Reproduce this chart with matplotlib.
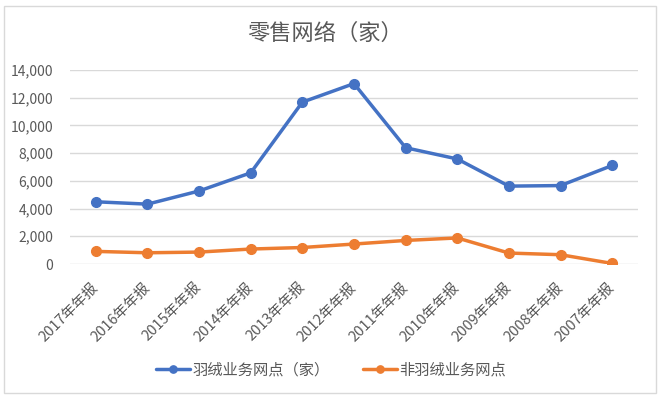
import matplotlib.pyplot as plt
import matplotlib.patches as mpatches
from matplotlib.ticker import FuncFormatter

plt.rcParams['font.family'] = ['Noto Sans CJK SC', 'DejaVu Sans']

# dati
categories = ["2017年年报", "2016年年报", "2015年年报", "2014年年报", "2013年年报",
              "2012年年报", "2011年年报", "2010年年报", "2009年年报", "2008年年报",
              "2007年年报"]
down_outlets = [4490, 4320, 5270, 6580, 11680, 13020, 8390, 7580, 5620, 5660, 7110]
other_outlets = [910, 810, 860, 1080, 1190, 1440, 1700, 1880, 790, 670, 40]

BLUE = "#4472C4"
ORANGE = "#ED7D31"
GRAY_TXT = "#595959"
GRID = "#D9D9D9"

fig = plt.figure(figsize=(6.6, 3.97), dpi=100)
fig.patch.set_facecolor("white")
ax = fig.add_axes([70 / 660, 1 - 264 / 397, (638 - 70) / 660, (264 - 70) / 397])

x = list(range(len(categories)))
ax.plot(x, down_outlets, color=BLUE, lw=2.5, marker="o", ms=7,
        label="羽绒业务网点（家）", solid_capstyle="round")
ax.plot(x, other_outlets, color=ORANGE, lw=2.5, marker="o", ms=7,
        label="非羽绒业务网点", solid_capstyle="round")

ax.set_xlim(-0.5, len(categories) - 0.5)
ax.set_ylim(0, 14000)
ax.set_yticks(range(0, 14001, 2000))
ax.yaxis.set_major_formatter(FuncFormatter(lambda v, p: f"{int(v):,}"))
ax.set_xticks(x)
ax.set_xticklabels(categories, rotation=45, ha="right", va="center",
                   rotation_mode="anchor", fontsize=10.5, color=GRAY_TXT)
ax.tick_params(axis="y", length=0, labelsize=10, labelcolor=GRAY_TXT, pad=12)
ax.tick_params(axis="x", length=0, pad=15)
ax.grid(axis="y", color=GRID, lw=1)
ax.set_axisbelow(True)
for s in ax.spines.values():
    s.set_visible(False)

fig.text(325 / 660, 1 - 33 / 397, "零售网络（家）", fontsize=16, color=GRAY_TXT,
         ha="center", va="center")

fig.legend(loc="center", bbox_to_anchor=(331 / 660, 1 - 370 / 397), ncol=2,
           frameon=False, fontsize=11, labelcolor=GRAY_TXT, handlelength=2.2,
           columnspacing=2.2, handletextpad=0.15, markerscale=0.75)

# bordo del grafico
fig.patches.append(mpatches.Rectangle((4 / 660, 4 / 397), 652 / 660, 1 - 10 / 397,
                                      transform=fig.transFigure, fill=False,
                                      edgecolor="#D9D9D9", lw=1))

fig.savefig("out.png", dpi=100, facecolor="white")
